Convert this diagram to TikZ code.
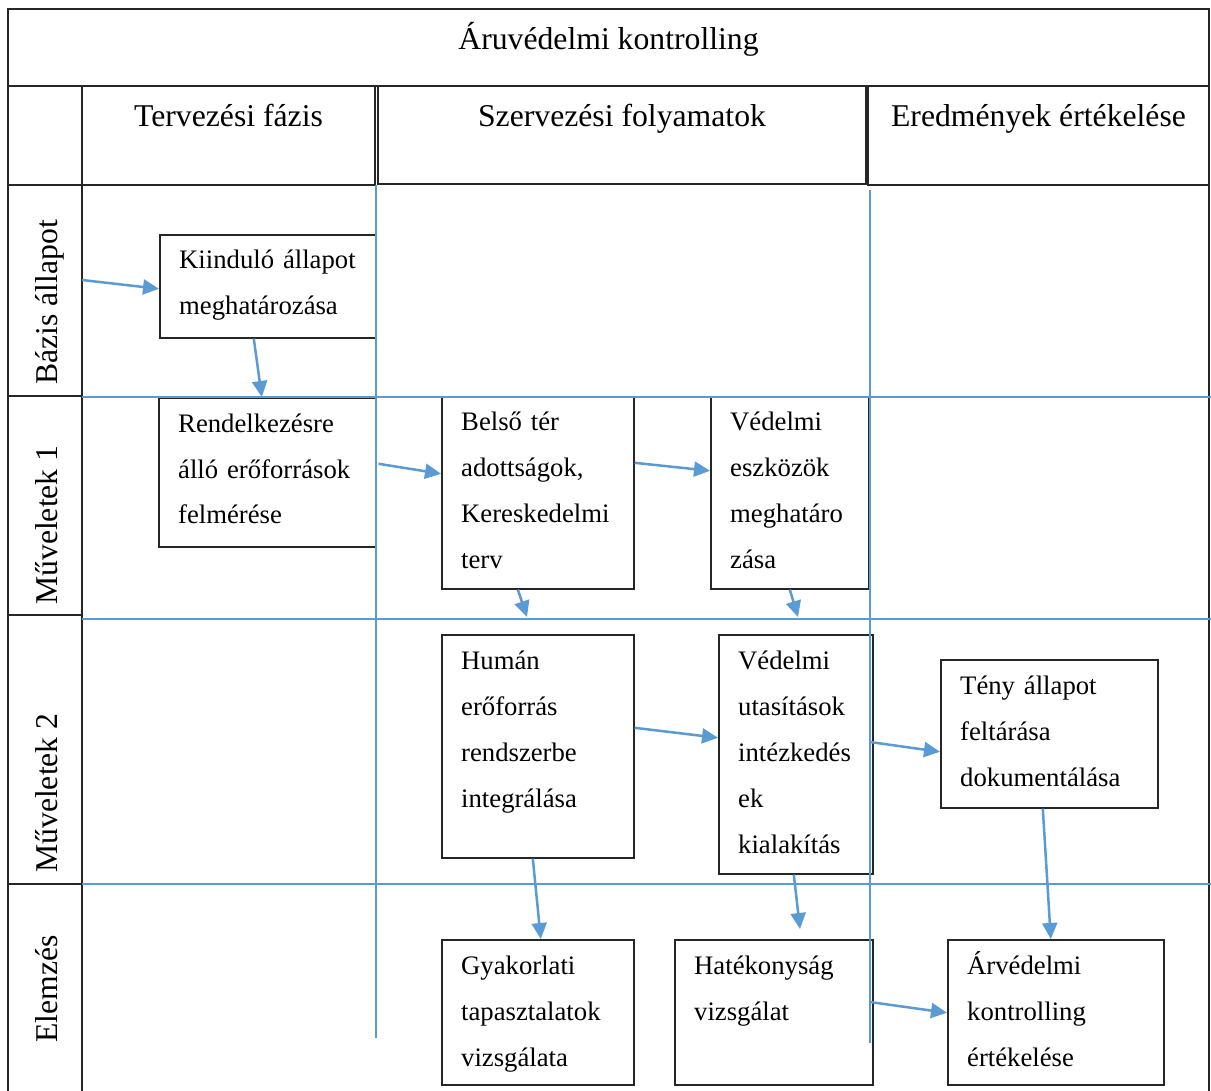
\documentclass[tikz,border=0pt]{standalone}
\usepackage{fontspec}
\setmainfont{Liberation Serif}
\usetikzlibrary{arrows.meta}

\definecolor{lane}{RGB}{91,155,213}
\definecolor{rule}{RGB}{38,38,38}

\newcommand\headfont{\fontsize{31.7}{38}\selectfont}
\newcommand\boxfont{\fontsize{26.7}{46}\selectfont}

% a process box with top-aligned text
\newcommand\flowbox[6]{%
  \node[procbox, minimum width=#4, minimum height=#5] (#1) at (#2,#3) {};
  \node[boxtext] (#1t) at ([shift={(20,35)}]#1.north west) {#6};
}

\tikzset{
  procbox/.style={draw=rule, line width=1.6, fill=white, inner sep=0, anchor=north west},
  boxtext/.style={font=\boxfont, align=left, text width=230, inner sep=0, anchor=base west},
  cell/.style={draw=rule, line width=1.5},
  lanerule/.style={draw=lane, line width=2.7},
  flow/.style={draw=lane, line width=2.5, -{Triangle[length=16,width=15]}},
  heading/.style={font=\headfont, inner sep=0, anchor=base},
  rowlabel/.style={font=\headfont, inner sep=0, anchor=base west, rotate=90},
}

\begin{document}
\begin{tikzpicture}[x=1pt, y=-1pt]
\useasboundingbox (0,0) rectangle (1211,1091);
\fill[white] (0,0) rectangle (1211,1091);

% table frame and header cells
\draw[cell] (8,9) rectangle (1209,86);
\draw[cell] (8,86) -- (8,1091);
\draw[cell] (82,86) -- (82,1091);
\draw[cell] (1209,86) -- (1209,1091);
\draw[cell] (82,86) rectangle (375,185);
\draw[cell] (378,86) rectangle (866,184);
\draw[cell] (868,86) rectangle (1209,185);
\draw[cell] (8,185) -- (82,185);
\draw[cell] (8,396) -- (82,396);
\draw[cell] (8,615) -- (82,615);
\draw[cell] (8,884) -- (82,884);

% titles
\node[heading] (title) at (608.5,50) {Áruvédelmi kontrolling};
\node[heading] (ph1) at (228.5,127) {Tervezési fázis};
\node[heading] (ph2) at (622,127) {Szervezési folyamatok};
\node[heading] (ph3) at (1038.5,127) {Eredmények értékelése};

\node[rowlabel] (r1) at (57,385) {Bázis állapot};
\node[rowlabel] (r2) at (57,605) {Műveletek 1};
\node[rowlabel] (r3) at (57,873) {Műveletek 2};
\node[rowlabel] (r4) at (57,1043) {Elemzés};

% process boxes
\flowbox{k1}{159}{234}{216}{103}{Kiinduló állapot\\meghatározása}
\flowbox{k2}{158}{397}{217}{149}{Rendelkezésre\\álló erőforrások\\felmérése}
\flowbox{k3}{441}{396}{192}{192}{Belső tér\\adottságok,\\Kereskedelmi\\terv}
\flowbox{k4}{710}{396}{158}{192}{Védelmi\\eszközök\\meghatáro\\zása}
\flowbox{k5}{441}{634}{192}{223}{Humán\\erőforrás\\rendszerbe\\integrálása}
\flowbox{k6}{718}{634}{154}{239}{Védelmi\\utasítások\\intézkedés\\ek\\kialakítás}
\flowbox{k7}{441}{939}{192}{145}{Gyakorlati\\tapasztalatok\\vizsgálata}
\flowbox{k8}{674}{939}{198}{145}{Hatékonyság\\vizsgálat}
\flowbox{k9}{940}{659}{217}{148}{Tény állapot\\feltárása\\dokumentálása}
\flowbox{k10}{947}{939}{216}{145}{Árvédelmi\\kontrolling\\értékelése}

% swimlane rules
\draw[lanerule] (82,397) -- (1211,397);
\draw[lanerule] (82,619) -- (1211,619);
\draw[lanerule] (82,884) -- (1211,884);
\draw[lanerule] (376,185) -- (376,1038);
\draw[lanerule] (870,190) -- (870,1043);

% free arrow ends
\coordinate (in0) at (82,280);
\coordinate (e5) at (527,617);
\coordinate (e6) at (798,617);
\coordinate (e9) at (800,929);
\coordinate (s10) at (870,742);
\coordinate (s11) at (870,1002);

% flow arrows
\draw[flow] (in0) -- ([yshift=-2.5]k1.west);
\draw[flow] ([xshift=-14]k1.south) -- ([xshift=-5.5]k2.north);
\draw[flow] ([xshift=2,yshift=8.5]k2.east) -- ([yshift=19]k3.west);
\draw[flow] ([yshift=30]k3.east) -- ([yshift=22]k4.west);
\draw[flow] ([xshift=-20]k3.south) -- (e5);
\draw[flow] (k4.south) -- (e6);
\draw[flow] ([yshift=18.5]k5.east) -- ([yshift=16.5]k6.west);
\draw[flow] ([xshift=-5]k5.south) -- ([xshift=3]k7.north);
\draw[flow] ([xshift=-2]k6.south) -- (e9);
\draw[flow] (s10) -- ([yshift=-18]k9.west);
\draw[flow] (s11) -- ([yshift=-0.5]k10.west);
\draw[flow] ([xshift=-6.5]k9.south) -- ([xshift=-5]k10.north);
\end{tikzpicture}
\end{document}
